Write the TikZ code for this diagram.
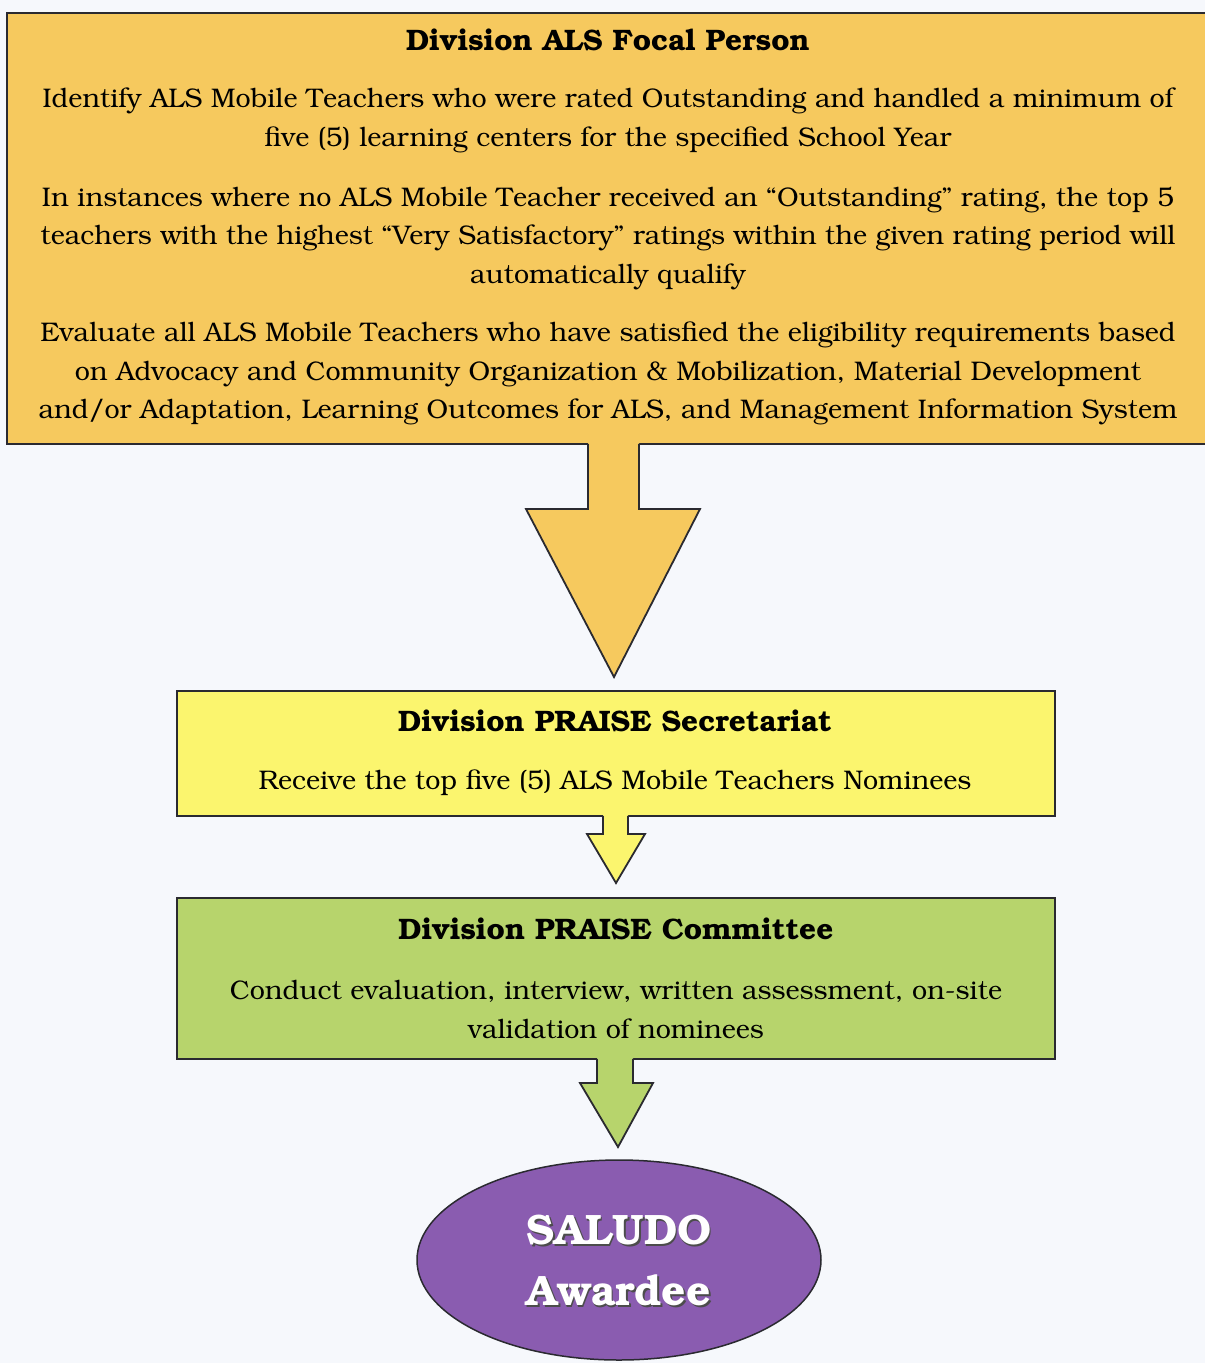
\documentclass[tikz,border=0pt]{standalone}
\usepackage[T1]{fontenc}
\usepackage{bookman}
\usetikzlibrary{shapes.geometric}
\definecolor{bgc}{HTML}{F6F8FC}
\definecolor{goldc}{HTML}{F6C95E}
\definecolor{yelc}{HTML}{FBF56E}
\definecolor{grnc}{HTML}{B7D46C}
\definecolor{purc}{HTML}{8A5CB0}
\definecolor{edgec}{HTML}{2A2A30}
\tikzset{
  box/.style={draw=edgec, line width=1.8pt, anchor=north west, inner sep=0pt, rectangle},
  body/.style={align=center, font=\fontsize{26.9}{38.5}\selectfont, text=black, inner sep=0pt},
  head/.style={font=\fontsize{29.6}{32}\selectfont\bfseries, text=black, inner sep=0pt},
  arrowline/.style={draw=edgec, line width=1.8pt, line join=miter},
}
\begin{document}
\begin{tikzpicture}[x=1pt,y=-1pt]
\useasboundingbox (0,0) rectangle (1205,1363);
\fill[bgc] (0,0) rectangle (1205,1363);

% boxes
\node[box, fill=goldc, minimum width=1210pt, minimum height=431pt] (focal) at (6,12) {};
\node[box, fill=yelc, minimum width=878pt, minimum height=125pt] (secr) at (176,690) {};
\node[box, fill=grnc, minimum width=878pt, minimum height=161pt] (comm) at (176,897) {};
\node[ellipse, draw=edgec, line width=1.5pt, fill=purc, minimum width=404pt, minimum height=200pt, inner sep=0pt] (award) at (619,1260) {};

% texts, top box
\node[head] (t0) at (608,40) {Division ALS Focal Person};
\node[body] (t1) at (608,120.5) {Identify ALS Mobile Teachers who were rated Outstanding and handled a minimum of\\five (5) learning centers for the specified School Year};
\node[body] (t2) at (608,238.5) {In instances where no ALS Mobile Teacher received an ``Outstanding'' rating, the top 5\\teachers with the highest ``Very Satisfactory'' ratings within the given rating period will\\automatically qualify};
\node[body] (t3) at (608,373.5) {Evaluate all ALS Mobile Teachers who have satisfied the eligibility requirements based\\on Advocacy and Community Organization \& Mobilization, Material Development\\and/or Adaptation, Learning Outcomes for ALS, and Management Information System};

% secretariat
\node[head] (s0) at (615,721) {Division PRAISE Secretariat};
\node[body] (s1) at (615,783) {Receive the top five (5) ALS Mobile Teachers Nominees};

% committee
\node[head] (c0) at (616,929) {Division PRAISE Committee};
\node[body] (c1) at (616,1009.5) {Conduct evaluation, interview, written assessment, on-site\\validation of nominees};

% award text
\node[font=\fontsize{42.5}{61}\selectfont\bfseries, text=gray!60!black, align=center, inner sep=0pt] at (620.5,1261.5) {SALUDO\\Awardee};
\node[font=\fontsize{42.5}{61}\selectfont\bfseries, text=white, align=center, inner sep=0pt] (aw) at (619,1260) {SALUDO\\Awardee};

% arrow 1
\fill[goldc] (588,441) -- (588,509) -- (526,509) -- (614,677) -- (700,509) -- (639,509) -- (639,441) -- cycle;
\draw[arrowline] (588,443.9) -- (588,509) -- (526,509) -- (614,677) -- (700,509) -- (639,509) -- (639,443.9);
% arrow 2
\fill[yelc] (603,813) -- (603,834) -- (587,834) -- (616,883) -- (645,834) -- (628,834) -- (628,813) -- cycle;
\draw[arrowline] (603,815.9) -- (603,834) -- (587,834) -- (616,883) -- (645,834) -- (628,834) -- (628,815.9);
% arrow 3
\fill[grnc] (597,1056) -- (597,1083) -- (580,1083) -- (618,1147) -- (653,1083) -- (633,1083) -- (633,1056) -- cycle;
\draw[arrowline] (597,1058.9) -- (597,1083) -- (580,1083) -- (618,1147) -- (653,1083) -- (633,1083) -- (633,1058.9);
\end{tikzpicture}
\end{document}
